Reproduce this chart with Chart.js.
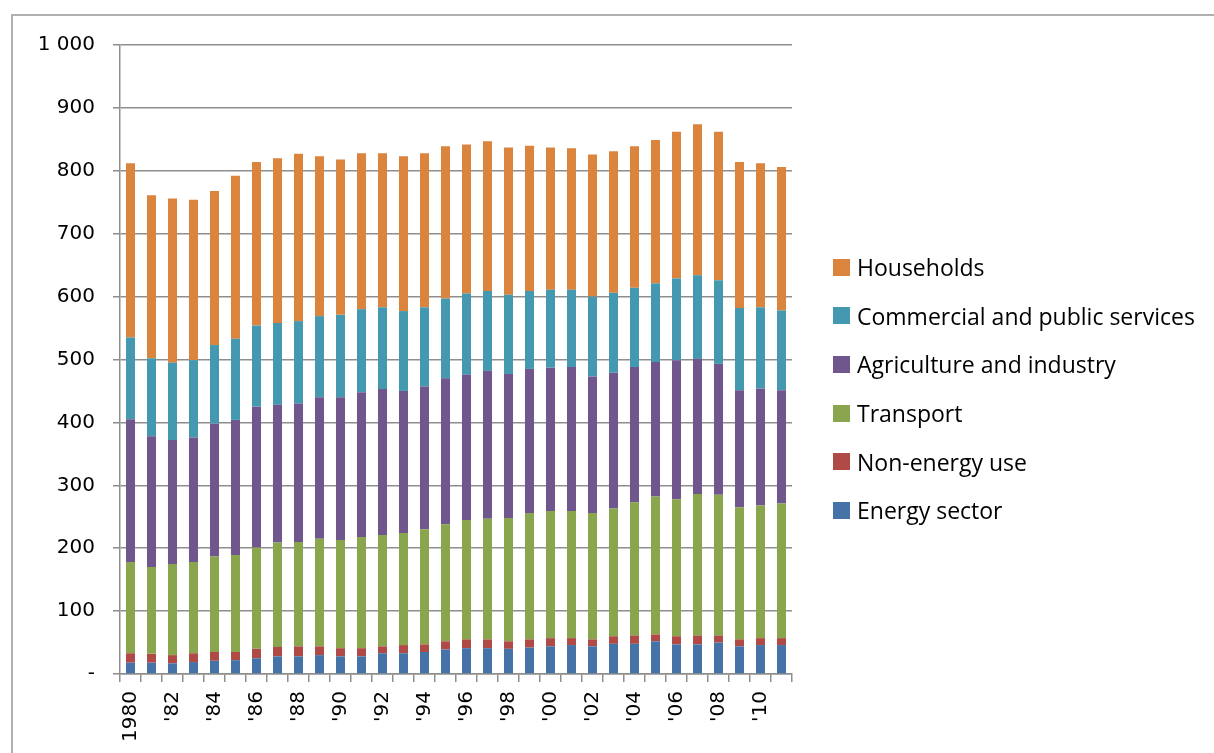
<!DOCTYPE html>
<html>
<head>
<meta charset="utf-8">
<script src="https://cdn.jsdelivr.net/npm/chart.js@4"></script>
<style>
  html, body { margin: 0; padding: 0; background: #ffffff; }
  #wrap { position: relative; width: 1214px; height: 753px; overflow: hidden; background: #fff; }
  #frame { position: absolute; left: 11px; top: 14px; width: 1210px; height: 760px;
           border-left: 2px solid #b0b0b0; border-top: 2px solid #b0b0b0; box-sizing: border-box; }
  #chart { position: absolute; left: 0; top: 0; }
  #legend { position: absolute; left: 833px; top: 243px; font-family: "Open Sans", "DejaVu Sans", sans-serif;
            font-size: 23px; color: #000; }
  .item { height: 48.6px; display: flex; align-items: center; white-space: nowrap; }
  .box { width: 17px; height: 17px; margin-right: 7px; flex: none; }
</style>
</head>
<body>
<div id="wrap">
  <div id="frame"></div>
  <canvas id="chart" width="1214" height="753"></canvas>
  <div id="legend"></div>
</div>
<script>
// Final energy consumption by sector, 1980-2011
const years = [1980,1981,1982,1983,1984,1985,1986,1987,1988,1989,1990,1991,1992,1993,1994,1995,
               1996,1997,1998,1999,2000,2001,2002,2003,2004,2005,2006,2007,2008,2009,2010,2011];
const tickLabels = ["1980","","'82","","'84","","'86","","'88","","'90","","'92","","'94","",
                    "'96","","'98","","'00","","'02","","'04","","'06","","'08","","'10",""];

const energySector = [18,18,17,19,21,22,25,28,28,30,28,28,33,33,35,39,41,41,40,42,44,46,44,48,48,52,47,47,50,44,46,46];
const nonEnergyUse = [15,14,13,14,14,13,15,15,16,14,13,13,11,13,12,13,14,14,12,13,13,11,11,12,13,11,13,14,11,11,11,11];
const transport    = [145,138,145,145,152,154,161,166,166,171,172,177,177,178,183,186,190,192,196,201,202,202,201,203,212,219,218,225,224,210,211,214];
const agriIndustry = [227,208,197,198,211,215,224,219,220,225,227,230,232,226,227,232,231,235,229,229,228,229,217,216,215,214,221,215,208,186,186,180];
const commercial   = [130,124,123,123,125,129,129,130,131,129,131,132,130,127,126,127,129,127,126,124,124,123,127,127,126,125,130,133,133,131,129,127];
const households   = [277,259,261,255,245,259,260,262,266,254,247,248,245,246,245,242,237,238,234,231,226,225,226,225,225,228,233,240,236,232,229,228];

const seriesNames  = ["Energy sector","Non-energy use","Transport","Agriculture and industry","Commercial and public services","Households"];
const seriesValues = [energySector, nonEnergyUse, transport, agriIndustry, commercial, households];
const seriesColors = ["#4673A7","#AF4A47","#89A54E","#6F578D","#4499B0","#DB843E"];

const yTicks = {0:"-", 1000:"1 000"};

Chart.defaults.font.family = "'DejaVu Sans', sans-serif";
Chart.defaults.font.size = 20;
Chart.defaults.color = "#000";

const gridColor = "#8e8e8e";

const chart = new Chart(document.getElementById("chart"), {
  type: "bar",
  data: {
    labels: tickLabels,
    datasets: seriesNames.map((name, i) => ({
      label: name,
      data: seriesValues[i],
      backgroundColor: seriesColors[i],
      borderWidth: 0,
      barPercentage: 0.5,
      categoryPercentage: 0.86
    }))
  },
  options: {
    responsive: false,
    animation: false,
    layout: { padding: { left: 0, right: 422, top: 45, bottom: 0 } },
    plugins: { legend: { display: false }, tooltip: { enabled: false } },
    scales: {
      x: {
        stacked: true,
        grid: { drawOnChartArea: false, drawTicks: true, tickLength: 8, color: gridColor, lineWidth: 1.5 },
        border: { color: gridColor, width: 1.5 },
        ticks: { autoSkip: false, maxRotation: 90, minRotation: 90, padding: 9, color: "#000" },
        afterFit(scale) { scale.height = 79; }
      },
      y: {
        stacked: true,
        min: 0,
        max: 1000,
        grid: { color: gridColor, lineWidth: 1.5, tickLength: 7 },
        border: { color: gridColor, width: 1.5 },
        ticks: {
          stepSize: 100,
          padding: 18,
          color: "#000",
          callback: (v) => (v in yTicks ? yTicks[v] : String(v))
        },
        afterFit(scale) { scale.width = 120; }
      }
    }
  }
});

// Legend, top-down in reverse stacking order
const legend = document.getElementById("legend");
chart.data.datasets.slice().reverse().forEach(ds => {
  const row = document.createElement("div");
  row.className = "item";
  const box = document.createElement("span");
  box.className = "box";
  box.style.background = ds.backgroundColor;
  const txt = document.createElement("span");
  txt.textContent = ds.label;
  row.appendChild(box);
  row.appendChild(txt);
  legend.appendChild(row);
});
</script>
</body>
</html>
